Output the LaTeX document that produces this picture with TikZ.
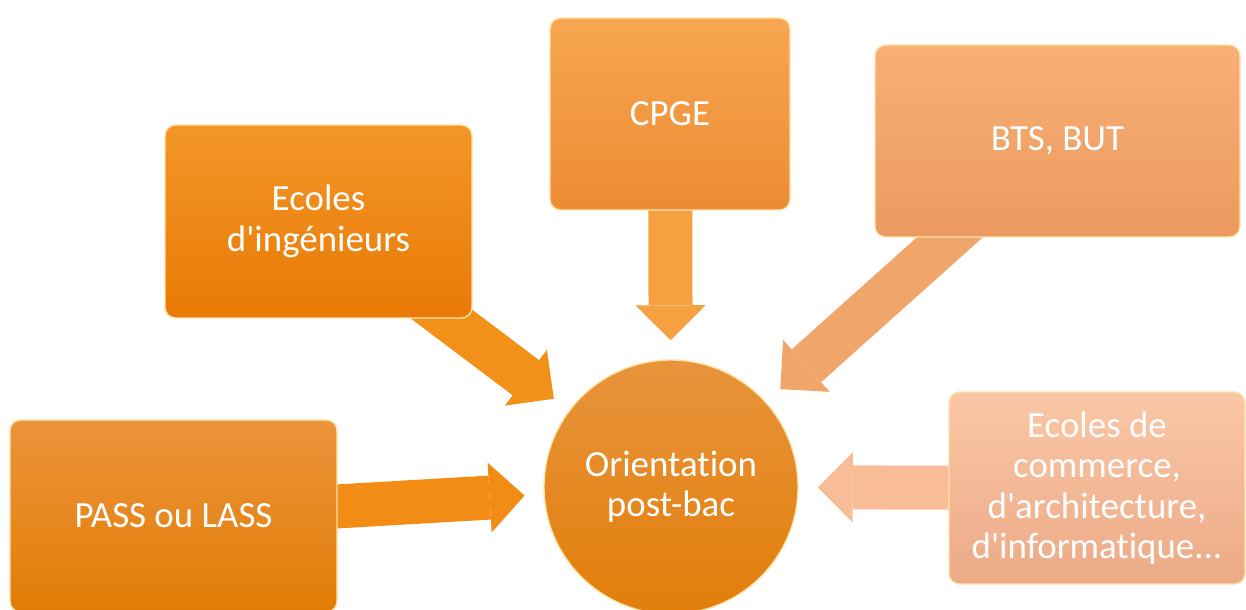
\documentclass[tikz,border=0pt]{standalone}
\usepackage{fontspec}
\setmainfont{Carlito}[Ligatures={TeXOff, NoCommon}]
\usepackage{tikz}
\usetikzlibrary{arrows.meta, positioning, backgrounds}
\definecolor{ingtop}{RGB}{243,150,40}
\definecolor{ingbot}{RGB}{233,122,5}
\definecolor{cpgetop}{RGB}{247,166,82}
\definecolor{cpgebot}{RGB}{237,140,50}
\definecolor{btstop}{RGB}{247,176,117}
\definecolor{btsbot}{RGB}{236,154,95}
\definecolor{passtop}{RGB}{236,148,60}
\definecolor{passbot}{RGB}{226,124,5}
\definecolor{comtop}{RGB}{250,199,166}
\definecolor{combot}{RGB}{236,170,135}
\definecolor{hubtop}{RGB}{232,148,60}
\definecolor{hubbot}{RGB}{226,126,10}
\definecolor{glow}{RGB}{255,228,170}

\begin{document}
\begin{tikzpicture}[
    choice/.style={rounded corners=6pt, draw=glow, line width=0.8pt, minimum height=3.84cm, inner sep=0pt, align=center, text=white, font=\fontsize{21}{23}\selectfont},
    hub/.style={circle, draw=glow, line width=0.8pt, minimum size=5.08cm, inner sep=0pt, align=center, text=white, font=\fontsize{21}{23}\selectfont, top color=hubtop, bottom color=hubbot},
    flow/.style={line width=0.88cm, -{Triangle[width=1.4cm, length=0.7cm, line width=0pt]}, shorten >=0.38cm}
]
    \useasboundingbox (0, 0) rectangle (24.92, 12.18);
    \clip (0, 0) rectangle (24.92, 12.18);

    % Choices after the bac
    \node[choice, minimum width=6.14cm, minimum height=3.86cm, top color=ingtop, bottom color=ingbot] (ing) at (6.37, 7.75) {Ecoles\\d'ingénieurs};
    \node[choice, minimum width=4.80cm, top color=cpgetop, bottom color=cpgebot] (cpge) at (13.40, 9.90) {CPGE};
    \node[choice, minimum width=7.30cm, top color=btstop, bottom color=btsbot] (bts) at (21.15, 9.36) {BTS, BUT};
    \node[choice, minimum width=6.54cm, top color=passtop, bottom color=passbot] (pass) at (3.47, 1.86) {PASS ou LASS};
    \node[choice, minimum width=5.92cm, top color=comtop, bottom color=combot] (com) at (21.94, 2.42) {Ecoles de\\commerce,\\d'architecture,\\d'informatique...};

    % Centre
    \node[hub] (orient) at (13.42, 2.44) {Orientation\\post-bac};

    % Arrows towards the centre
    \begin{scope}[on background layer]
        \draw[flow, color={rgb,255:red,242;green,145;blue,25}] (ing.center) -- (orient);
        \draw[flow, color={rgb,255:red,245;green,160;blue,65}] (cpge.center) -- (orient);
        \draw[flow, color={rgb,255:red,240;green,166;blue,106}] (bts.center) -- (orient);
        \draw[flow, color={rgb,255:red,242;green,140;blue,20}] (pass.center) -- (orient);
        \draw[flow, color={rgb,255:red,248;green,188;blue,150}] (com.center) -- (orient);
    \end{scope}

\end{tikzpicture}
\end{document}
